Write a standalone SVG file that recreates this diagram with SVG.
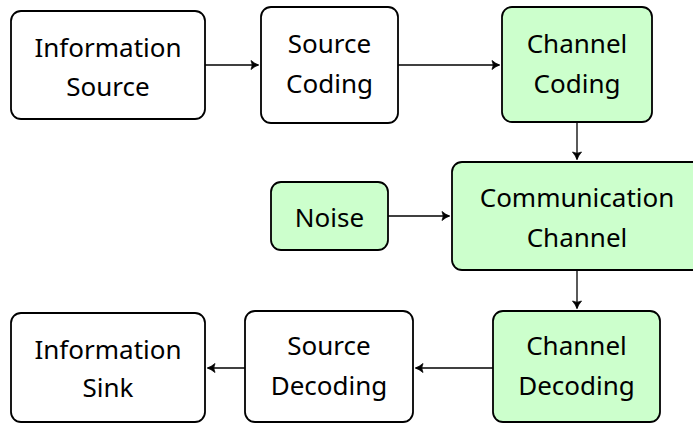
<svg xmlns="http://www.w3.org/2000/svg" width="693" height="423" viewBox="0 0 693 423">
<style>
.box{fill:#ffffff;stroke:#000;stroke-width:1.8}
.green{fill:#ccffcc}
text{font-family:"Noto Sans","Liberation Sans",sans-serif;font-size:26px;fill:#000;text-anchor:middle}
.edge{stroke:#000;stroke-width:1.3;fill:none;marker-end:url(#arr)}
</style>
<defs>
<marker id="arr" markerUnits="userSpaceOnUse" markerWidth="12" markerHeight="12" refX="0" refY="0" viewBox="-8 -6 10 12" orient="auto">
<path d="M-7,-4.5 Q-3,-1 0.8,0 Q-3,1 -7,4.5 Q-4.5,0 -7,-4.5 Z" fill="#000" stroke="#000" stroke-width="0.8" stroke-linejoin="round"/>
</marker>
</defs>
<g id="info-source"><rect class="box" x="11" y="11" width="194" height="108" rx="10"/><text x="108" y="57">Information</text><text x="108" y="96">Source</text></g>
<g id="source-coding"><rect class="box" x="261" y="7" width="137" height="116" rx="10"/><text x="329.5" y="53">Source</text><text x="329.5" y="93">Coding</text></g>
<g id="channel-coding"><rect class="box green" x="502" y="7" width="150" height="115" rx="10"/><text x="577" y="53">Channel</text><text x="577" y="93">Coding</text></g>
<g id="noise"><rect class="box green" x="271" y="182" width="117" height="68" rx="10"/><text x="329.5" y="227">Noise</text></g>
<g id="comm-channel"><rect class="box green" x="452" y="162" width="252" height="108" rx="10"/><text x="577" y="207">Communication</text><text x="577" y="247">Channel</text></g>
<g id="channel-decoding"><rect class="box green" x="493" y="311" width="167" height="111" rx="10"/><text x="576.5" y="355">Channel</text><text x="576.5" y="395">Decoding</text></g>
<g id="source-decoding"><rect class="box" x="245" y="311" width="168" height="111" rx="10"/><text x="329" y="355">Source</text><text x="329" y="395">Decoding</text></g>
<g id="info-sink"><rect class="box" x="11" y="313" width="194" height="109" rx="10"/><text x="108" y="359">Information</text><text x="108" y="397">Sink</text></g>
<g id="connectors">
<line class="edge" x1="205" y1="65" x2="258" y2="65"/>
<line class="edge" x1="398" y1="65" x2="499" y2="65"/>
<line class="edge" x1="577" y1="122" x2="577" y2="159"/>
<line class="edge" x1="388" y1="216" x2="449" y2="216"/>
<line class="edge" x1="577" y1="270" x2="577" y2="308"/>
<line class="edge" x1="493" y1="368" x2="416" y2="368"/>
<line class="edge" x1="245" y1="368" x2="208" y2="368"/>
</g>
</svg>
